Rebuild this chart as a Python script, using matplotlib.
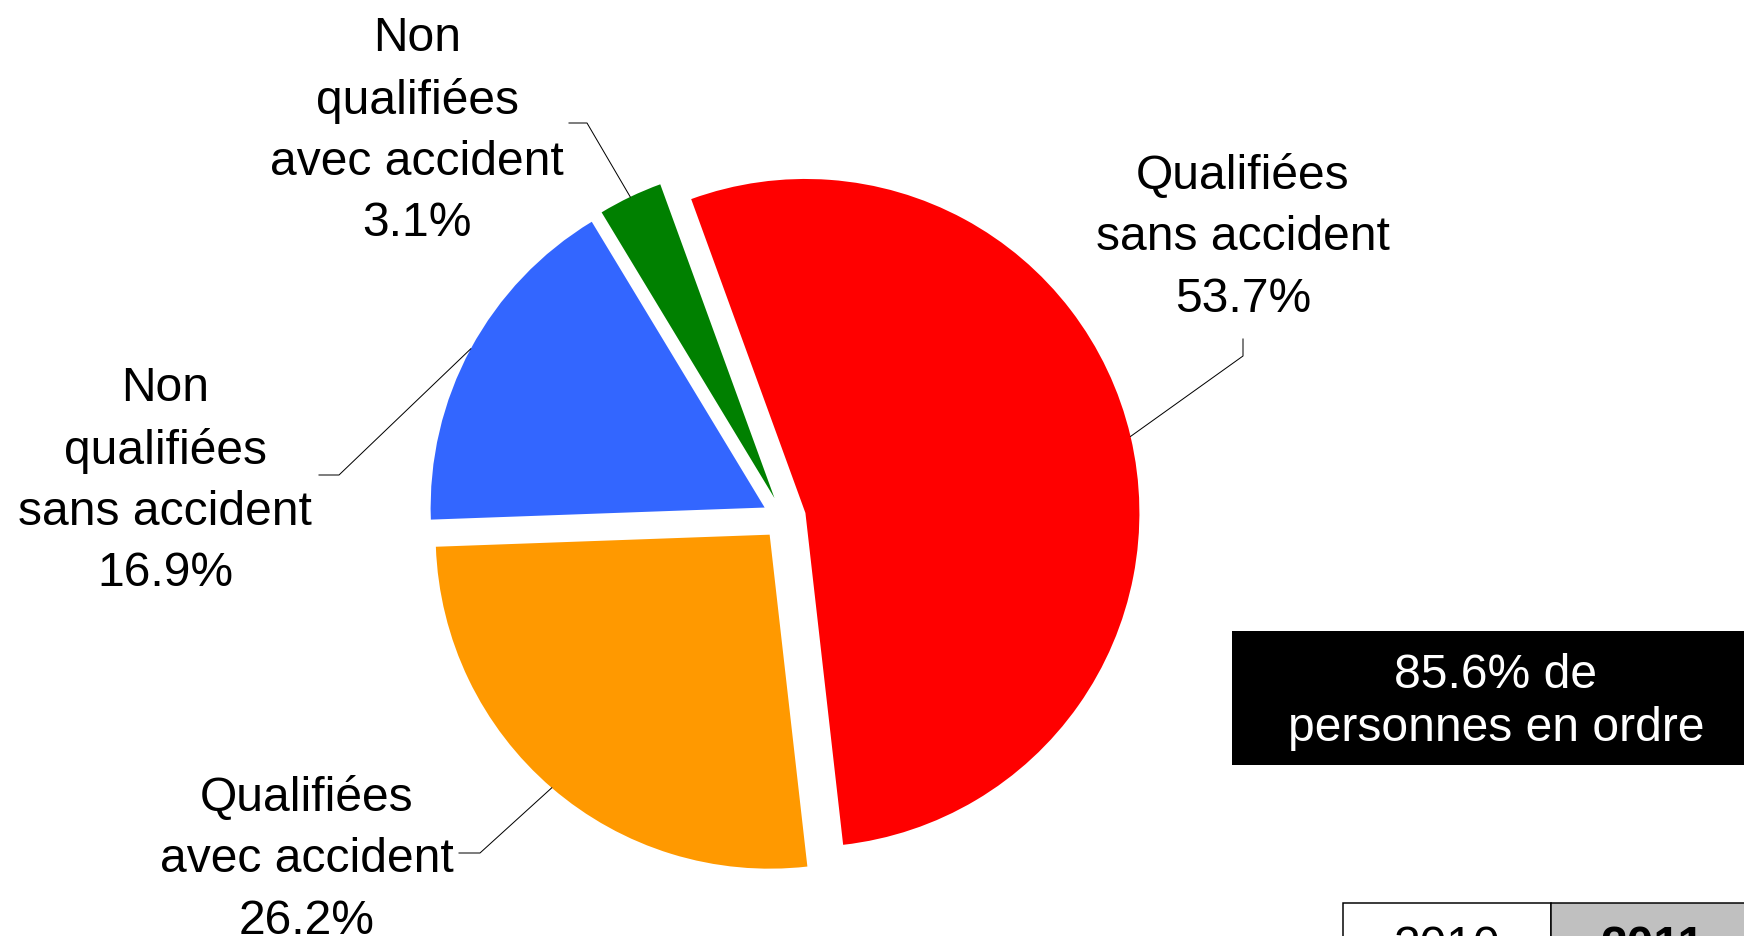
import numpy as np
import matplotlib
matplotlib.use("Agg")
import matplotlib.pyplot as plt
from matplotlib.patches import Rectangle

# parts of the pie, clockwise from the top
categories = ["Qualifiées\nsans accident", "Qualifiées\navec accident",
              "Non\nqualifiées\nsans accident", "Non\nqualifiées\navec accident"]
values = [53.7, 26.2, 16.9, 3.1]
colors = ["#FF0000", "#FF9900", "#3366FF", "#008000"]
summary = "85.6% de\npersonnes en ordre"
years = ["2010", "2011"]

plt.rcParams['font.family'] = ['Liberation Sans', 'DejaVu Sans']

W, H = 1744, 936
fig = plt.figure(figsize=(W / 72, H / 72), dpi=72)
ax = fig.add_axes([0, 0, 1, 1])

# explode is in data units here (pixels)
wedges, _ = ax.pie(values, colors=colors, startangle=110, counterclock=False,
                   center=(784, 418), radius=334, explode=[22] * 4,
                   wedgeprops=dict(linewidth=0))
ax.set_xlim(0, W)
ax.set_ylim(0, H)
ax.set_aspect('equal')
ax.axis('off')

fs = 48
# label block centre, leader elbow start / end (pixel layout)
label_pos = [(1243, 936 - 238), (307, 936 - 860), (165, 936 - 481), (417, 936 - 131)]
elbows = [((1243, 936 - 339), (1243, 936 - 356)),
          ((459, 936 - 853), (480, 936 - 853)),
          ((319, 936 - 475), (339, 936 - 475)),
          ((569, 936 - 123), (587, 936 - 123))]

for w, cat, v, (lx, ly), (p0, p1) in zip(wedges, categories, values, label_pos, elbows):
    ax.text(lx, ly, f"{cat}\n{v:.1f}%", ha='center', va='center', fontsize=fs,
            linespacing=1.47)
    mid = np.deg2rad((w.theta1 + w.theta2) / 2)
    ex = w.center[0] + w.r * np.cos(mid)
    ey = w.center[1] + w.r * np.sin(mid)
    ax.plot([p0[0], p1[0], ex], [p0[1], p1[1], ey], color='black', lw=1)

# black summary box
ax.add_patch(Rectangle((1232, 936 - 765), 540, 134, facecolor='black', edgecolor='none'))
ax.text(1496, 936 - 702, summary, color='white', ha='center', va='center',
        fontsize=fs, linespacing=1.24)

# year table (cut by the bottom edge)
ax.add_patch(Rectangle((1343, 936 - 990), 208, 87, facecolor='white', edgecolor='black', lw=1.5))
ax.add_patch(Rectangle((1551, 936 - 990), 220, 87, facecolor='#C0C0C0', edgecolor='black', lw=1.5))
ax.text(1447, 936 - 948, years[0], ha='center', va='center', fontsize=fs)
ax.text(1653, 936 - 948, years[1], ha='center', va='center', fontsize=fs, fontweight='bold')

fig.savefig("out.png", dpi=72, facecolor='white')
